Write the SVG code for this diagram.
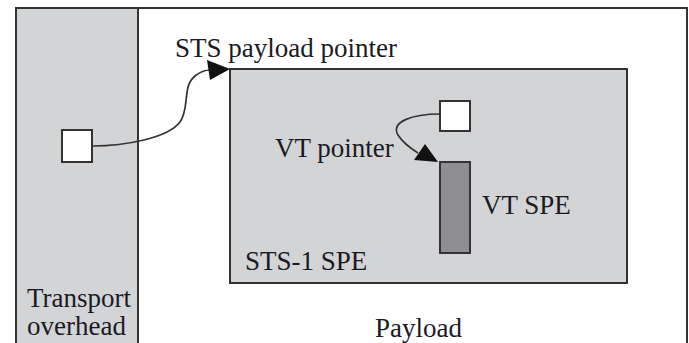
<svg xmlns="http://www.w3.org/2000/svg" width="689" height="343" viewBox="0 0 689 343">
<style>
text{font-family:"Liberation Serif","Times New Roman",serif;font-size:27px;fill:#1a1a24}
.ln{stroke:#333;stroke-width:2;fill:none}
.gray{fill:#d3d4d6;stroke:#333;stroke-width:2}
.box{fill:#fff;stroke:#333;stroke-width:2}
.conn{stroke:#333;stroke-width:1.7;fill:none}
.head{fill:#111}
</style>
<rect width="689" height="343" fill="#fff"/>
<g id="frame">
<path class="ln" d="M16,344 V8 H687 V344"/>
</g>
<g id="transport-overhead">
<rect class="gray" x="16" y="8" width="122" height="340"/>
<text x="27" y="307">Transport</text>
<text x="27" y="335">overhead</text>
</g>
<g id="payload">
<text x="375" y="337">Payload</text>
</g>
<g id="sts1-spe">
<rect class="gray" x="230" y="69" width="397" height="214"/>
<text x="245" y="270">STS-1 SPE</text>
</g>
<g id="sts-pointer-box">
<rect class="box" x="62" y="130" width="30" height="32"/>
</g>
<g id="vt-pointer-box">
<rect class="box" x="440" y="101" width="30" height="30"/>
</g>
<g id="vt-spe">
<rect x="440" y="162" width="30" height="91" fill="#8f8f93" stroke="#333" stroke-width="2"/>
<text x="482" y="214">VT SPE</text>
</g>
<g id="connectors">
<path class="conn" d="M92,146 C125,146 168,138 180,122 C190,108 182,86 195,76 C200,72 204,70 210,70"/>
<polygon class="head" points="230,69 207,60 210,80"/>
<path class="conn" d="M440,114 C412,114 390,122 398,135 C403,143 410,148 418,153"/>
<polygon class="head" points="438,162 414,160 425,144"/>
</g>
<g id="labels">
<text x="175" y="57">STS payload pointer</text>
<text x="275" y="157">VT pointer</text>
</g>
</svg>
